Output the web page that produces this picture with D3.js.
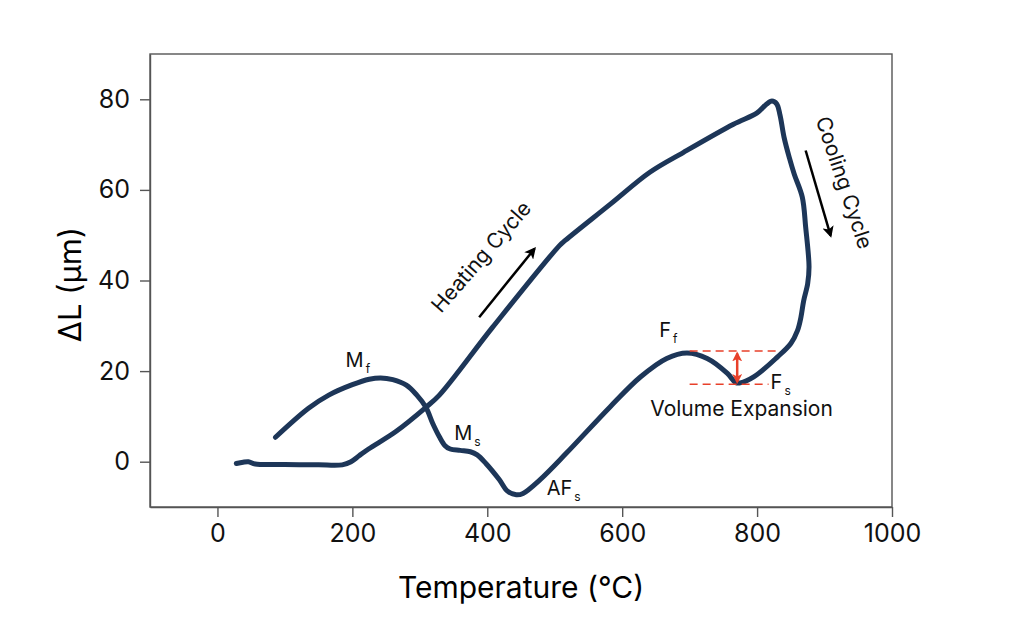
<!DOCTYPE html>
<html lang="en">
<head>
  <meta charset="UTF-8">
  <title>Dilatometry Curve</title>
  <script src="https://d3js.org/d3.v7.min.js"></script>
  <style>
    body {
      margin: 0;
      background: #fff;
      font-family: Inter, "Noto Sans", sans-serif;
    }
    .axis path,
    .axis line {
      stroke: #555;
      stroke-width: 1.4;
    }
    .axis text {
      font-family: Inter, sans-serif;
      font-size: 25px;
      fill: #111;
    }
    .frame {
      fill: none;
      stroke: #555;
      stroke-width: 1.4;
    }
    .curve {
      fill: none;
      stroke: #1d3658;
      stroke-width: 5;
      stroke-linecap: round;
      stroke-linejoin: round;
    }
    .label {
      font-size: 20px;
      fill: #111;
    }
  </style>
</head>
<body>
  <svg width="1024" height="642"></svg>

  <script>
    // heating branch: temperature (°C) and ΔL (µm)
    const heatTemp = [28, 38, 46, 56, 100, 150, 185, 198, 210, 224, 264, 309, 329, 408, 507, 516, 582, 641, 691, 765, 800, 813, 822];
    const heatDL   = [-0.4, -0.1, 0.0, -0.5, -0.6, -0.7, -0.7, 0.0, 1.3, 2.8, 6.6, 12.0, 14.7, 29.7, 47.7, 48.9, 56.8, 63.9, 68.3, 74.5, 77.0, 78.8, 79.6];

    // cooling branch, continuing from the peak
    const coolTemp = [829, 834, 840, 848, 855, 867, 872, 877, 875, 869, 865, 860, 850, 830, 795, 775, 768, 756, 726, 696, 666, 627, 582, 517, 478, 453, 443, 430, 418, 398, 385, 375, 360, 345, 337, 329, 319, 309, 295, 280, 260, 242, 225, 200, 165, 135, 86];
    const coolDL   = [79.0, 76.5, 71.6, 67.0, 63.5, 58.4, 51.8, 43.0, 39.3, 35.5, 31.9, 29.0, 26.1, 23.1, 18.7, 17.4, 17.5, 19.5, 22.8, 24.0, 22.8, 18.7, 12.1, 1.85, -4.0, -7.0, -7.3, -6.5, -4.0, -0.4, 1.5, 2.2, 2.5, 2.8, 3.6, 5.5, 8.5, 12.0, 14.8, 16.9, 18.1, 18.5, 18.2, 17.0, 14.7, 11.8, 5.4];

    const xTicks = [0, 200, 400, 600, 800, 1000];
    const yTicks = [0, 20, 40, 60, 80];

    // phase markers: letter, subscript, anchor (temperature, ΔL)
    const phaseMain = ['M', 'M', 'AF', 'F', 'F'];
    const phaseSub  = ['f', 's', 's', 'f', 's'];
    const phaseTemp = [190, 351, 488, 655, 820];
    const phaseDL   = [20.9, 4.8, -7.3, 27.5, 16.1];

    const svg = d3.select('svg');
    const margin = { top: 54, right: 132, bottom: 135, left: 150 };
    const width = +svg.attr('width') - margin.left - margin.right;
    const height = +svg.attr('height') - margin.top - margin.bottom;

    const x = d3.scaleLinear().domain([-100, 1000]).range([margin.left, margin.left + width]);
    const y = d3.scaleLinear().domain([-10, 90]).range([margin.top + height, margin.top]);

    // arrow heads
    const defs = svg.append('defs');
    function marker(id, color, size) {
      defs.append('marker')
        .attr('id', id)
        .attr('viewBox', '0 0 10 10')
        .attr('refX', 8).attr('refY', 5)
        .attr('markerWidth', size).attr('markerHeight', size)
        .attr('orient', 'auto-start-reverse')
        .append('path')
        .attr('d', 'M0,0 L10,5 L0,10 L2.5,5 z')
        .attr('fill', color);
    }
    marker('arrowBlack', '#000', 4.6);
    marker('arrowRed', '#e8402a', 4);

    // axes
    svg.append('g')
      .attr('class', 'axis')
      .attr('transform', `translate(0, ${margin.top + height})`)
      .call(d3.axisBottom(x).tickValues(xTicks).tickFormat(d3.format('d'))
        .tickSize(10).tickPadding(7).tickSizeOuter(0));

    svg.append('g')
      .attr('class', 'axis')
      .attr('transform', `translate(${margin.left}, 0)`)
      .call(d3.axisLeft(y).tickValues(yTicks).tickSize(10).tickPadding(10).tickSizeOuter(0));

    svg.append('rect')
      .attr('class', 'frame')
      .attr('x', margin.left).attr('y', margin.top)
      .attr('width', width).attr('height', height);

    // axis titles
    svg.append('text')
      .attr('x', margin.left + width / 2)
      .attr('y', 598)
      .attr('text-anchor', 'middle')
      .style('font-size', '30px')
      .text('Temperature (°C)');

    svg.append('text')
      .attr('transform', `translate(81, ${margin.top + height / 2 + 4}) rotate(-90)`)
      .attr('text-anchor', 'middle')
      .style('font-size', '31px')
      .text('ΔL (μm)');

    // dilatation curve: heating then cooling as one path
    const pts = heatTemp.map((t, i) => [t, heatDL[i]])
      .concat(coolTemp.map((t, i) => [t, coolDL[i]]));

    const line = d3.line()
      .x(d => x(d[0]))
      .y(d => y(d[1]))
      .curve(d3.curveCatmullRom.alpha(0.5));

    svg.append('path')
      .datum(pts)
      .attr('class', 'curve')
      .attr('d', line);

    // volume expansion guides
    const guides = svg.append('g')
      .attr('stroke', '#e8402a')
      .attr('stroke-width', 1.5)
      .attr('stroke-dasharray', '8,5');
    guides.append('line')
      .attr('x1', x(700)).attr('x2', x(832))
      .attr('y1', y(24.45)).attr('y2', y(24.45));
    guides.append('line')
      .attr('x1', x(700)).attr('x2', x(817))
      .attr('y1', y(17.1)).attr('y2', y(17.1));

    svg.append('line')
      .attr('x1', x(770.5)).attr('x2', x(770.5))
      .attr('y1', y(23.9)).attr('y2', y(17.6))
      .attr('stroke', '#e8402a')
      .attr('stroke-width', 2.5)
      .attr('marker-start', 'url(#arrowRed)')
      .attr('marker-end', 'url(#arrowRed)');

    // phase labels
    phaseMain.forEach((m, i) => {
      const t = svg.append('text')
        .attr('class', 'label')
        .attr('x', x(phaseTemp[i]))
        .attr('y', y(phaseDL[i]));
      t.append('tspan').text(m);
      t.append('tspan')
        .attr('dx', 2).attr('dy', 6)
        .style('font-size', '12px')
        .text(phaseSub[i]);
    });

    svg.append('text')
      .attr('class', 'label')
      .attr('x', x(777))
      .attr('y', y(10.1))
      .attr('text-anchor', 'middle')
      .style('font-size', '21px')
      .text('Volume Expansion');

    // cycle direction arrows
    svg.append('line')
      .attr('x1', x(388)).attr('y1', y(31.9))
      .attr('x2', x(470)).attr('y2', y(47.0))
      .attr('stroke', '#000').attr('stroke-width', 2.5)
      .attr('marker-end', 'url(#arrowBlack)');

    svg.append('text')
      .attr('class', 'label')
      .attr('transform', `translate(${x(399)}, ${y(44.2)}) rotate(-49)`)
      .attr('text-anchor', 'middle')
      .style('font-size', '21px')
      .text('Heating Cycle');

    svg.append('line')
      .attr('x1', x(872)).attr('y1', y(68.7))
      .attr('x2', x(909)).attr('y2', y(49.9))
      .attr('stroke', '#000').attr('stroke-width', 2.5)
      .attr('marker-end', 'url(#arrowBlack)');

    svg.append('text')
      .attr('class', 'label')
      .attr('transform', `translate(${x(919)}, ${y(61.1)}) rotate(71.5)`)
      .attr('text-anchor', 'middle')
      .style('font-size', '21px')
      .text('Cooling Cycle');
  </script>
</body>
</html>
